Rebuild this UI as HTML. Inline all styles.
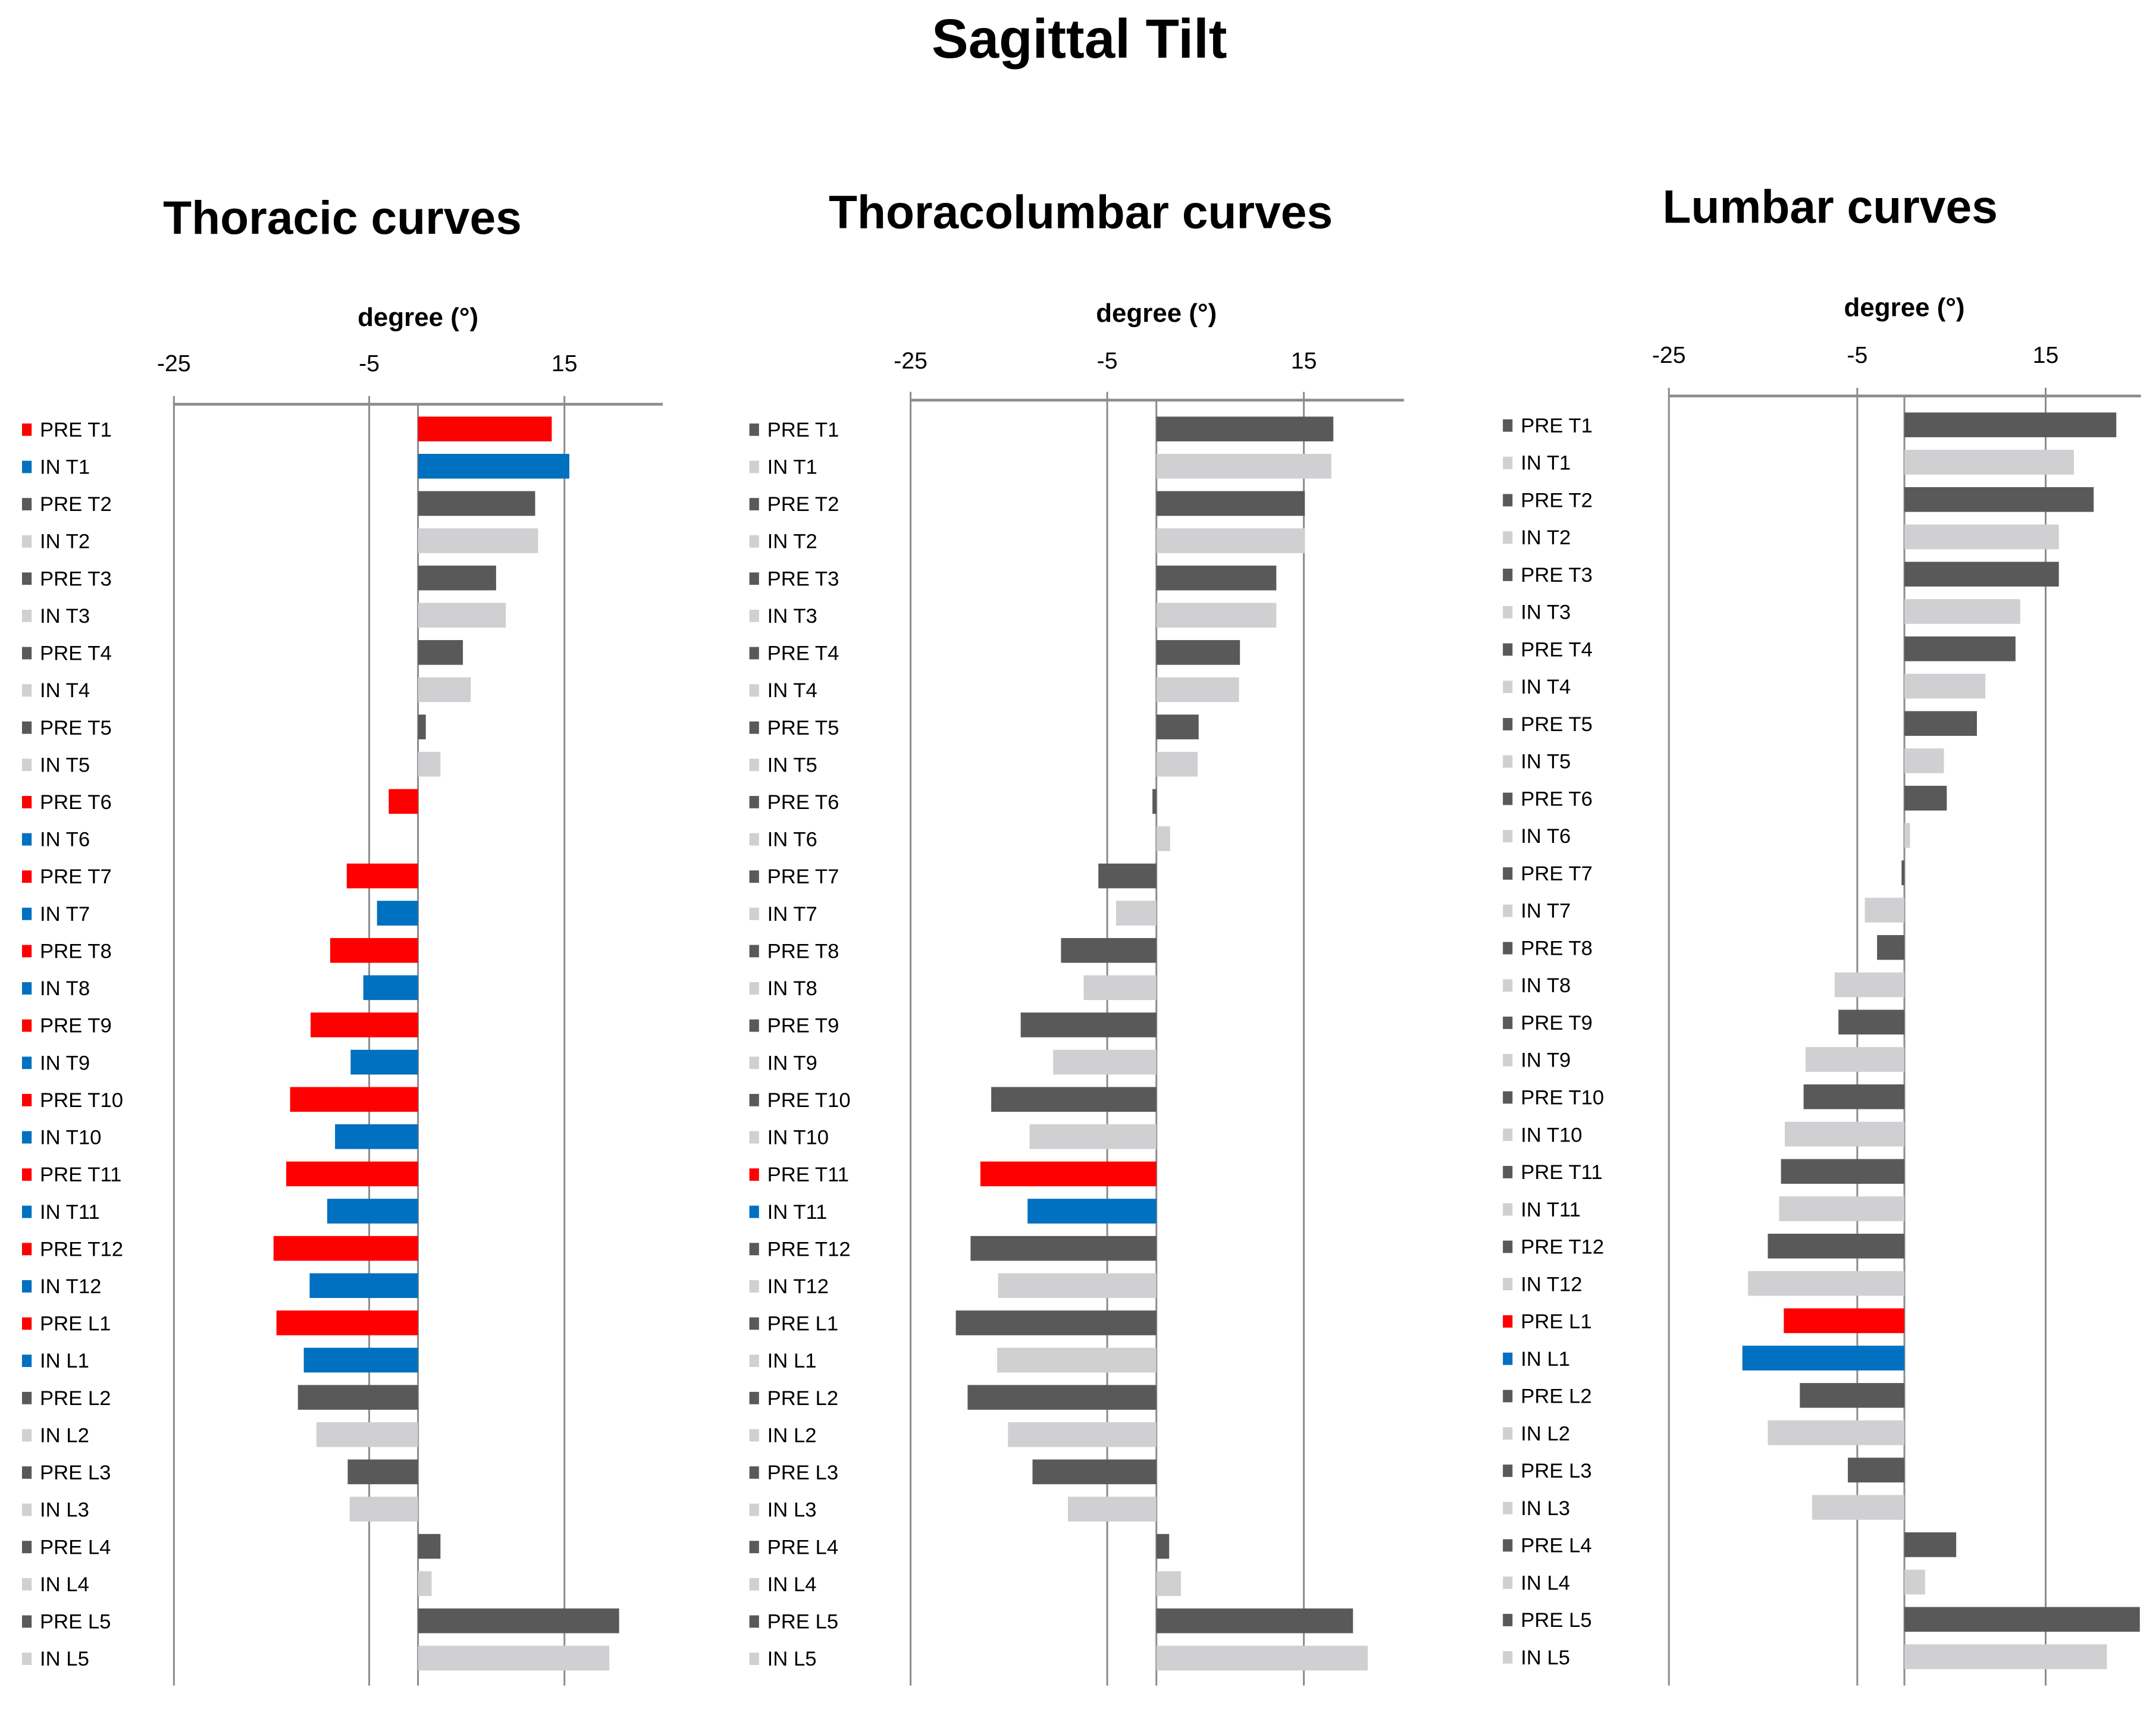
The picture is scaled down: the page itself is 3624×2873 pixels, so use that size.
<!DOCTYPE html>
<html><head><meta charset="utf-8"><style>
html,body{margin:0;padding:0;background:#fff}
svg{display:block}
text{font-family:"Liberation Sans",sans-serif}
</style></head><body>
<svg id="chart" width="3624" height="2873" viewBox="0 0 1568 1243" xmlns="http://www.w3.org/2000/svg">
<text x="785" y="42" text-anchor="middle" font-size="40" font-weight="bold">Sagittal Tilt</text>
</svg>
<script>
const labels = ["PRE T1","IN T1","PRE T2","IN T2","PRE T3","IN T3","PRE T4","IN T4","PRE T5","IN T5","PRE T6","IN T6","PRE T7","IN T7","PRE T8","IN T8","PRE T9","IN T9","PRE T10","IN T10","PRE T11","IN T11","PRE T12","IN T12","PRE L1","IN L1","PRE L2","IN L2","PRE L3","IN L3","PRE L4","IN L4","PRE L5","IN L5"];
const ticks = [-25,-5,15];
const thoracicValues = [13.7,15.5,12,12.3,8,9,4.6,5.4,0.8,2.3,-3,0,-7.3,-4.2,-9,-5.6,-11,-6.9,-13.1,-8.5,-13.5,-9.3,-14.8,-11.1,-14.5,-11.7,-12.3,-10.4,-7.2,-7,2.3,1.4,20.6,19.6];
const thoracolumbarValues = [18,17.8,15.1,15.1,12.2,12.2,8.5,8.4,4.3,4.2,-0.4,1.4,-5.9,-4.1,-9.7,-7.4,-13.8,-10.5,-16.8,-12.9,-17.9,-13.1,-18.9,-16.1,-20.4,-16.2,-19.2,-15.1,-12.6,-9,1.3,2.5,20,21.5];
const lumbarValues = [22.5,18,20.1,16.4,16.4,12.3,11.8,8.6,7.7,4.2,4.5,0.6,-0.3,-4.2,-2.9,-7.4,-7,-10.5,-10.7,-12.7,-13.1,-13.3,-14.5,-16.6,-12.8,-17.2,-11.1,-14.5,-6,-9.8,5.5,2.2,25,21.5];
const thoracicHighlight = [0,1,10,11,12,13,14,15,16,17,18,19,20,21,22,23,24,25];
const thoracolumbarHighlight = [20,21];
const lumbarHighlight = [24,25];

const NS = "http://www.w3.org/2000/svg";
const svg = document.getElementById("chart");
function mk(tag, attrs, parent){const e=document.createElementNS(NS,tag);for(const k in attrs)e.setAttribute(k,attrs[k]);(parent||svg).appendChild(e);return e;}

const panels = [
 {name:"thoracic",title:"Thoracic curves",tx:249,ty:170,dy:237,tky:270,axy:294,x0:125,unit:7.1,zero:304,right:482,rowTop:312,rowBot:1206,legX:16,vals:thoracicValues,hi:thoracicHighlight,gridBot:1226},
 {name:"thoracolumbar",title:"Thoracolumbar curves",tx:786,ty:166,dy:234,tky:268,axy:291,x0:662,unit:7.15,zero:841,right:1021,rowTop:312,rowBot:1206,legX:545,vals:thoracolumbarValues,hi:thoracolumbarHighlight,gridBot:1226},
 {name:"lumbar",title:"Lumbar curves",tx:1331,ty:162,dy:230,tky:264,axy:288,x0:1214,unit:6.85,zero:1385,right:1557,rowTop:309,rowBot:1205,legX:1093,vals:lumbarValues,hi:lumbarHighlight,gridBot:1226}
];
panels.forEach(p=>{
  const g = mk("g",{});
  
  
  const xs = v => p.zero + v*p.unit;
  const n = labels.length, step = (p.rowBot-p.rowTop)/(n-1);
  const ys = i => p.rowTop + i*step;
  const t = mk("text",{x:p.tx,y:p.ty,"text-anchor":"middle","font-size":34,"font-weight":"bold"},g);
  t.textContent = p.title;
  
  
  const d = mk("text",{x:p.zero,y:p.dy,"text-anchor":"middle","font-size":19,"font-weight":"bold"},g);
  d.textContent = "degree (°)";
  
  
  ticks.forEach(tv=>{
    const l = mk("line",{x1:xs(tv),x2:xs(tv),y1:p.axy-6,y2:p.gridBot,stroke:"#8c8c8c","stroke-width":1.3},g);
    
    
    const tl = mk("text",{x:xs(tv),y:p.tky,"text-anchor":"middle","font-size":17},g);
    tl.textContent = tv;
    
    
  });
  const z = mk("line",{x1:p.zero,x2:p.zero,y1:p.axy,y2:p.gridBot,stroke:"#8c8c8c","stroke-width":1.3},g);
  
  
  const ax = mk("line",{x1:xs(-25),x2:p.right,y1:p.axy,y2:p.axy,stroke:"#8c8c8c","stroke-width":2},g);
  
  
  labels.forEach((lab,i)=>{
    const isPre = lab.startsWith("PRE");
    const hi = p.hi.includes(i);
    const col = hi ? (isPre?"#ff0000":"#0070c0") : (isPre?"#595959":"#d0d0d2");
    const v = p.vals[i];
    const y = ys(i);
    const b = mk("rect",{x:Math.min(xs(0),xs(v)),y:y-9,width:Math.abs(xs(v)-xs(0)),height:18,fill:col},g);
    
    
    const sq = mk("rect",{x:p.legX,y:y-4,width:7,height:9,fill:col},g);
    
    
    const lt = mk("text",{x:p.legX+13,y:y+5.5,"font-size":15},g);
    lt.textContent = lab;
    
    
  });
});
</script>
</body></html>
